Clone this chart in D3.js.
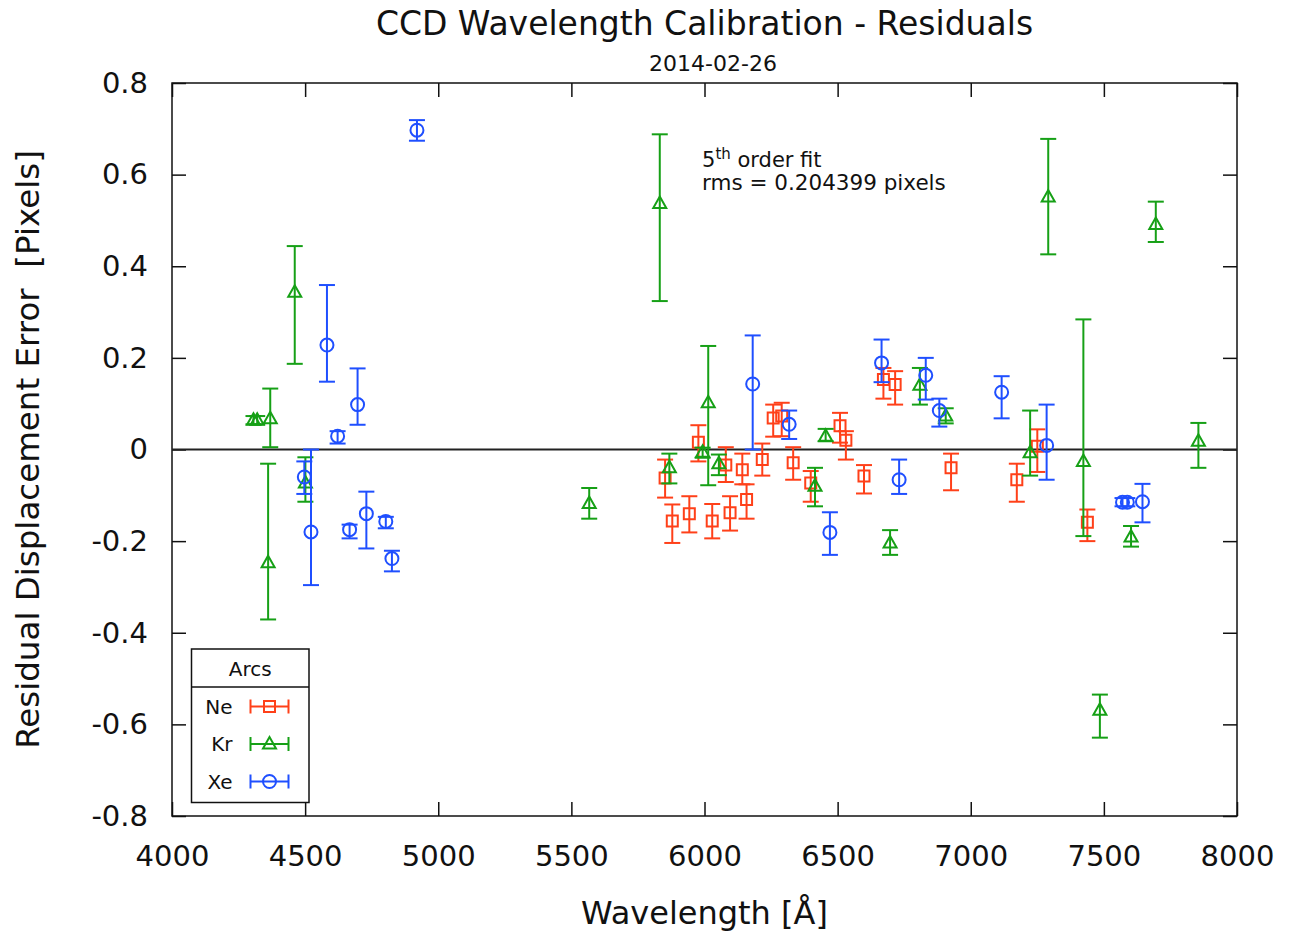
<!DOCTYPE html>
<html>
<head>
<meta charset="utf-8">
<script src="https://cdn.jsdelivr.net/npm/d3@7"></script>
<style>
  body { margin: 0; background: #fff; }
  svg { display: block; font-family: "DejaVu Sans", sans-serif; }
</style>
</head>
<body>
<svg width="1295" height="934"></svg>
<script>
// ---- data ----
const xTicks = [4000, 4500, 5000, 5500, 6000, 6500, 7000, 7500, 8000];
const yTicks = [-0.8, -0.6, -0.4, -0.2, 0, 0.2, 0.4, 0.6, 0.8];

const arcNames = ["Ne", "Kr", "Xe"];

// Ne lines
const neWave  = [5852, 5879, 5943, 5977, 6029, 6080, 6096, 6142, 6158, 6217, 6258, 6290, 6333, 6399, 6509, 6531, 6599, 6672, 6716, 6926, 7173, 7250, 7438];
const neResid = [-0.062, -0.156, -0.140, 0.016, -0.156, -0.034, -0.138, -0.044, -0.109, -0.022, 0.069, 0.073, -0.029, -0.073, 0.052, 0.020, -0.058, 0.153, 0.142, -0.040, -0.066, 0.007, -0.159];
const neLow   = [-0.105, -0.204, -0.181, -0.026, -0.194, -0.071, -0.177, -0.076, -0.151, -0.057, 0.028, 0.029, -0.066, -0.114, 0.015, -0.022, -0.096, 0.111, 0.098, -0.089, -0.114, -0.049, -0.200];
const neHigh  = [-0.022, -0.120, -0.102, 0.053, -0.119, 0.005, -0.102, -0.009, -0.076, 0.013, 0.098, 0.102, 0.005, -0.047, 0.080, 0.040, -0.034, 0.178, 0.171, -0.009, -0.031, 0.044, -0.131];

// Kr lines
const krWave  = [4306, 4320, 4361, 4369, 4461, 4501, 5567, 5832, 5868, 5993, 6014, 6054, 6415, 6455, 6697, 6809, 6906, 7223, 7291, 7423, 7485, 7602, 7695, 7855];
const krResid = [0.064, 0.064, -0.247, 0.067, 0.343, -0.073, -0.118, 0.537, -0.040, -0.006, 0.102, -0.031, -0.080, 0.029, -0.204, 0.140, 0.073, -0.007, 0.551, -0.026, -0.569, -0.191, 0.491, 0.018];
const krLow   = [0.055, 0.055, -0.371, 0.005, 0.187, -0.114, -0.151, 0.324, -0.074, -0.018, -0.078, -0.056, -0.124, 0.018, -0.230, 0.098, 0.057, -0.057, 0.426, -0.189, -0.629, -0.212, 0.453, -0.040];
const krHigh  = [0.073, 0.073, -0.031, 0.133, 0.444, -0.017, -0.084, 0.688, -0.009, 0.004, 0.226, -0.011, -0.040, 0.045, -0.176, 0.178, 0.090, 0.085, 0.678, 0.284, -0.535, -0.167, 0.541, 0.058];

// Xe lines
const xeWave  = [4497, 4522, 4582, 4622, 4667, 4697, 4730, 4803, 4826, 4920, 6181, 6318, 6471, 6665, 6731, 6831, 6882, 7116, 7285, 7570, 7588, 7645];
const xeResid = [-0.060, -0.180, 0.228, 0.029, -0.175, 0.098, -0.140, -0.157, -0.238, 0.697, 0.143, 0.055, -0.181, 0.189, -0.066, 0.162, 0.085, 0.125, 0.009, -0.115, -0.115, -0.114];
const xeLow   = [-0.097, -0.296, 0.148, 0.013, -0.194, 0.054, -0.216, -0.172, -0.266, 0.674, 0.000, 0.023, -0.230, 0.147, -0.097, 0.109, 0.050, 0.068, -0.066, -0.124, -0.124, -0.159];
const xeHigh  = [-0.026, 0.000, 0.359, 0.040, -0.164, 0.177, -0.092, -0.147, -0.221, 0.719, 0.249, 0.085, -0.137, 0.240, -0.022, 0.200, 0.111, 0.160, 0.098, -0.106, -0.106, -0.075];

const fitOrder = 5;
const fitRms = 0.204399;

/* -----------------------------
   Setup
----------------------------- */

const svg = d3.select("svg");

const plotL = 172, plotR = 1237, plotT = 83, plotB = 816;

const x = d3.scaleLinear().domain([4000, 8000]).range([plotL, plotR]);
const y = d3.scaleLinear().domain([-0.8, 0.8]).range([plotB, plotT]);

const zip = (w, r, lo, hi) => w.map((d, i) => ({ x: d, y: r[i], lo: lo[i], hi: hi[i] }));

const series = [
  { name: arcNames[0], color: "#ff4019", shape: "square",   points: zip(neWave, neResid, neLow, neHigh) },
  { name: arcNames[1], color: "#16a016", shape: "triangle", points: zip(krWave, krResid, krLow, krHigh) },
  { name: arcNames[2], color: "#1f4fff", shape: "circle",   points: zip(xeWave, xeResid, xeLow, xeHigh) }
];

const markerPath = {
  square:   "M-5.5,-5.5H5.5V5.5H-5.5Z",
  triangle: "M0,-7L6.5,4.5H-6.5Z",
  circle:   "M6.5,0A6.5,6.5 0 1,1 -6.5,0A6.5,6.5 0 1,1 6.5,0Z"
};

/* -----------------------------
   Axes (ticks inward, mirrored)
----------------------------- */

const fmtY = d => d === 0 ? "0" : d3.format(".1f")(d).replace("\u2212", "-");

function styleAxis(g) {
  g.select(".domain").remove();
  g.selectAll(".tick line").attr("stroke", "#111").attr("stroke-width", 1.5);
  g.selectAll(".tick text")
    .attr("fill", "#111")
    .style("font-size", "29px")
    .style("font-family", "'DejaVu Sans', sans-serif");
}

svg.append("g")
  .attr("transform", `translate(0,${plotB})`)
  .call(d3.axisBottom(x).tickValues(xTicks).tickSizeInner(-14).tickSizeOuter(0)
    .tickPadding(29).tickFormat(d3.format("d")))
  .call(styleAxis);

svg.append("g")
  .attr("transform", `translate(0,${plotT})`)
  .call(d3.axisTop(x).tickValues(xTicks).tickSizeInner(-14).tickSizeOuter(0).tickFormat(""))
  .call(styleAxis);

svg.append("g")
  .attr("transform", `translate(${plotL},0)`)
  .call(d3.axisLeft(y).tickValues(yTicks).tickSizeInner(-14).tickSizeOuter(0)
    .tickPadding(24).tickFormat(fmtY))
  .call(styleAxis);

svg.append("g")
  .attr("transform", `translate(${plotR},0)`)
  .call(d3.axisRight(y).tickValues(yTicks).tickSizeInner(-14).tickSizeOuter(0).tickFormat(""))
  .call(styleAxis);

// frame
svg.append("rect")
  .attr("x", plotL).attr("y", plotT)
  .attr("width", plotR - plotL).attr("height", plotB - plotT)
  .attr("fill", "none").attr("stroke", "#111").attr("stroke-width", 1.5);

// zero line
svg.append("line")
  .attr("x1", plotL).attr("x2", plotR)
  .attr("y1", y(0)).attr("y2", y(0))
  .attr("stroke", "#222").attr("stroke-width", 2);

/* -----------------------------
   Error bars + markers
----------------------------- */

const cap = 8;

series.forEach(s => {
  const g = svg.append("g")
    .attr("stroke", s.color)
    .attr("stroke-width", 2)
    .attr("fill", "none");

  const pt = g.selectAll("g.pt")
    .data(s.points)
    .enter()
    .append("g")
    .attr("class", "pt");

  pt.append("line")
    .attr("x1", d => x(d.x)).attr("x2", d => x(d.x))
    .attr("y1", d => y(d.lo)).attr("y2", d => y(d.hi));

  pt.append("line")
    .attr("x1", d => x(d.x) - cap).attr("x2", d => x(d.x) + cap)
    .attr("y1", d => y(d.lo)).attr("y2", d => y(d.lo));

  pt.append("line")
    .attr("x1", d => x(d.x) - cap).attr("x2", d => x(d.x) + cap)
    .attr("y1", d => y(d.hi)).attr("y2", d => y(d.hi));

  pt.append("path")
    .attr("d", markerPath[s.shape])
    .attr("transform", d => `translate(${x(d.x)},${y(d.y)})`);
});

/* -----------------------------
   Titles and labels
----------------------------- */

const cx = (plotL + plotR) / 2;

svg.append("text")
  .attr("x", cx).attr("y", 35)
  .attr("text-anchor", "middle")
  .attr("fill", "#111")
  .style("font-size", "33px")
  .text("CCD Wavelength Calibration - Residuals");

svg.append("text")
  .attr("x", 713).attr("y", 71)
  .attr("text-anchor", "middle")
  .attr("fill", "#111")
  .style("font-size", "22px")
  .text("2014-02-26");

svg.append("text")
  .attr("x", cx).attr("y", 924)
  .attr("text-anchor", "middle")
  .attr("fill", "#111")
  .style("font-size", "32px")
  .text("Wavelength [\u00c5]");

svg.append("text")
  .attr("transform", `translate(39,${(plotT + plotB) / 2}) rotate(-90)`)
  .attr("text-anchor", "middle")
  .attr("fill", "#111")
  .style("font-size", "32.5px")
  .style("white-space", "pre")
  .text("Residual Displacement Error  [Pixels]");

// fit annotation
const note = svg.append("text")
  .attr("x", 702).attr("y", 167)
  .attr("fill", "#111")
  .style("font-size", "21px");
note.append("tspan").text(fitOrder);
note.append("tspan").attr("dy", -8).style("font-size", "15px").text("th");
note.append("tspan").attr("dy", 8).text(" order fit");

svg.append("text")
  .attr("x", 702).attr("y", 190)
  .attr("fill", "#111")
  .style("font-size", "21.5px")
  .text("rms = " + fitRms + " pixels");

/* -----------------------------
   Legend
----------------------------- */

const leg = svg.append("g").attr("transform", "translate(191.5,649)");
const legW = 117.5, legH = 153.5, rowY0 = 57.5, rowStep = 37.5;

leg.append("rect")
  .attr("width", legW).attr("height", legH)
  .attr("fill", "#fff").attr("stroke", "#111").attr("stroke-width", 1.5);

leg.append("line")
  .attr("x1", 0).attr("x2", legW)
  .attr("y1", 38).attr("y2", 38)
  .attr("stroke", "#111").attr("stroke-width", 1.5);

leg.append("text")
  .attr("x", legW / 2).attr("y", 27)
  .attr("text-anchor", "middle")
  .attr("fill", "#111")
  .style("font-size", "20px")
  .text("Arcs");

series.forEach((s, i) => {
  const ry = rowY0 + i * rowStep;
  const row = leg.append("g").attr("transform", `translate(0,${ry})`);

  row.append("text")
    .attr("x", 41).attr("y", 7)
    .attr("text-anchor", "end")
    .attr("fill", "#111")
    .style("font-size", "20px")
    .text(s.name);

  const sg = row.append("g").attr("stroke", s.color).attr("stroke-width", 2).attr("fill", "none");
  sg.append("line").attr("x1", 59).attr("x2", 97).attr("y1", 0).attr("y2", 0);
  sg.append("line").attr("x1", 59).attr("x2", 59).attr("y1", -7).attr("y2", 7);
  sg.append("line").attr("x1", 97).attr("x2", 97).attr("y1", -7).attr("y2", 7);
  sg.append("path").attr("d", markerPath[s.shape]).attr("transform", "translate(78,0)");
});
</script>
</body>
</html>
